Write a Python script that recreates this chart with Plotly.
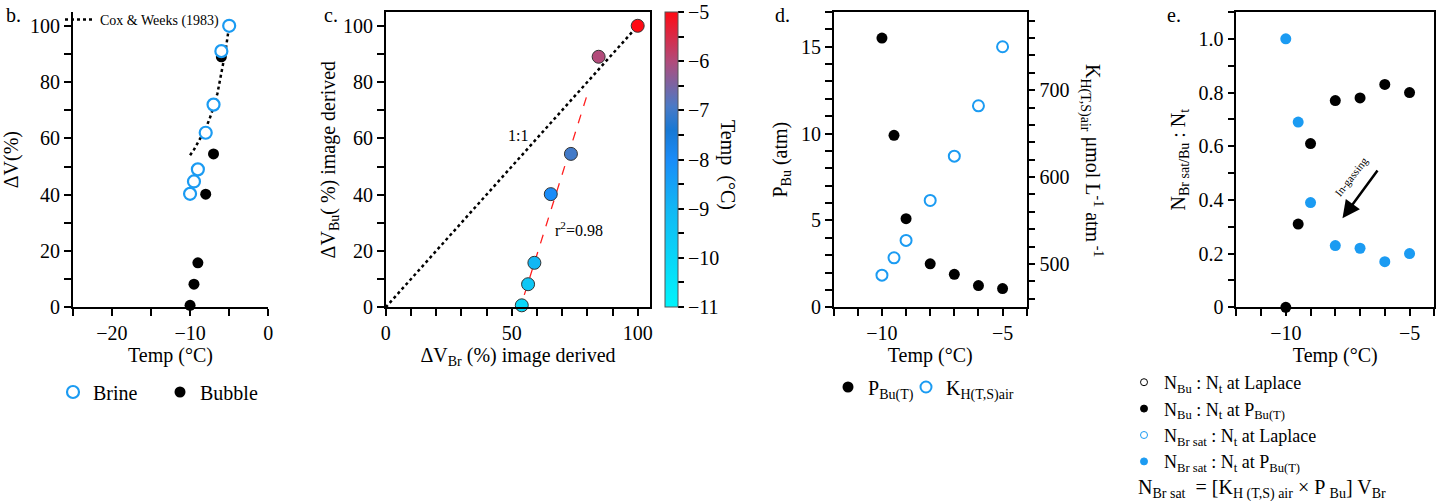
import plotly.graph_objects as go

FONT = "Liberation Serif"
BLUE = "#1b9bf2"
W, H = 1440, 501

# ---------------- data ----------------
# panel b
temp_b = [-10, -9.5, -9, -8, -7, -6, -5]
brine_dv = [40.3, 44.7, 49.0, 62.0, 72.0, 91.0, 100.0]
bubble_dv = [0.7, 8.2, 15.8, 40.2, 54.5, 89.0, 100.0]
cox_temp = [-10, -9.5, -9, -8.5, -8, -7.5, -7, -6.5, -6, -5.5, -5]
cox_dv = [54, 56, 58.5, 61, 63.5, 67, 71, 76, 83, 90.5, 100]

# panel c
br_dv_c = [100, 84.5, 73.5, 65.5, 59, 56.5, 54]
bu_dv_c = [100, 89, 54.5, 40.2, 15.8, 8.2, 0.7]
temp_c = [-5, -6, -7, -8, -9, -9.5, -10]
fit_x = [55.0, 80.2]
fit_y = [4.4, 76.2]
one_x = [0, 100]
one_y = [0, 100]

# panel d
temp_d = [-10, -9.5, -9, -8, -7, -6, -5]
p_bu = [15.5, 9.9, 5.1, 2.5, 1.9, 1.25, 1.08]
k_h = [487, 507, 527, 573, 624, 682, 750]

# panel e
temp_e = [-10, -9.5, -9, -8, -7, -6, -5]
n_bu = [0, 0.31, 0.61, 0.77, 0.78, 0.83, 0.80]
n_br = [1.0, 0.69, 0.39, 0.23, 0.22, 0.17, 0.20]

# colour scale for temperature (-11 .. -5)
cscale = [[0.0, "#00f4fb"], [0.33, "#12b8f4"], [0.5, "#1a8cf8"], [0.6, "#1778d4"],
          [0.68, "#4a7ac6"], [0.83, "#b04c7c"], [1.0, "#ff0a14"]]


def px_x(p):
    return p / W


def px_y(p):
    return 1 - p / H


Y_DOM = [px_y(307.3), px_y(12)]
TF = dict(family=FONT, size=20, color="black")

fig = go.Figure()

# ---- panel b ----
fig.add_trace(go.Scatter(x=cox_temp, y=cox_dv, mode="lines", name="Cox &amp; Weeks (1983)",
                         line=dict(color="black", dash="dot", width=2.5),
                         xaxis="x", yaxis="y", legend="legend2"))
fig.add_trace(go.Scatter(x=temp_b, y=bubble_dv, mode="markers", name="Bubble",
                         marker=dict(color="black", size=11), cliponaxis=False,
                         xaxis="x", yaxis="y", legend="legend", legendrank=2))
fig.add_trace(go.Scatter(x=temp_b, y=brine_dv, mode="markers", name="Brine",
                         marker=dict(color="white", size=12, line=dict(color=BLUE, width=2.2)),
                         cliponaxis=False, xaxis="x", yaxis="y", legend="legend", legendrank=1))

# ---- panel c ----
fig.add_trace(go.Scatter(x=one_x, y=one_y, mode="lines", line=dict(color="black", dash="dot", width=2.5),
                         showlegend=False, xaxis="x2", yaxis="y2"))
fig.add_trace(go.Scatter(x=fit_x, y=fit_y, mode="lines", line=dict(color="#ff2020", dash="dash", width=1.3),
                         showlegend=False, xaxis="x2", yaxis="y2"))
fig.add_trace(go.Scatter(
    x=br_dv_c, y=bu_dv_c, mode="markers", showlegend=False, cliponaxis=False,
    marker=dict(size=13, color=temp_c, colorscale=cscale, cmin=-11, cmax=-5,
                line=dict(color="#333333", width=1),
                colorbar=dict(x=px_x(665), xanchor="left", y=px_y(12), yanchor="top",
                              xpad=0, ypad=0,
                              len=(307.3 - 12) / H, lenmode="fraction", thickness=13,
                              outlinewidth=1, outlinecolor="#555555",
                              tickmode="array",
                              tickvals=[-11, -10.5, -10, -9.5, -9, -8.5, -8, -7.5, -7, -6.5, -6, -5.5, -5],
                              ticktext=["\u221211", "", "\u221210", "", "\u22129", "", "\u22128", "",
                                        "\u22127", "", "\u22126", "", "\u22125"],
                              ticks="outside", ticklen=6, tickwidth=1.5, tickcolor="black",
                              tickfont=TF)),
    xaxis="x2", yaxis="y2"))

# ---- panel d ----
fig.add_trace(go.Scatter(x=temp_d, y=p_bu, mode="markers", name="P<sub>Bu(T)</sub>",
                         marker=dict(color="black", size=11), cliponaxis=False,
                         xaxis="x3", yaxis="y3", legend="legend3"))
fig.add_trace(go.Scatter(x=temp_d, y=k_h, mode="markers", name="K<sub>H(T,S)air</sub>",
                         marker=dict(color="white", size=11, line=dict(color=BLUE, width=2)),
                         cliponaxis=False, xaxis="x3", yaxis="y4", legend="legend5"))

# ---- panel e ----
fig.add_trace(go.Scatter(x=temp_e, y=n_bu, mode="markers", showlegend=False,
                         marker=dict(color="black", size=11), cliponaxis=False,
                         xaxis="x4", yaxis="y5"))
fig.add_trace(go.Scatter(x=temp_e, y=n_br, mode="markers", showlegend=False,
                         marker=dict(color=BLUE, size=11), cliponaxis=False,
                         xaxis="x4", yaxis="y5"))
legend_e = [
    ("N<sub>Bu</sub> : N<sub>t</sub> at Laplace", "white", "black"),
    ("N<sub>Bu</sub> : N<sub>t</sub> at P<sub>Bu(T)</sub>", "black", "black"),
    ("N<sub>Br sat</sub> : N<sub>t</sub> at Laplace", "white", BLUE),
    ("N<sub>Br sat</sub> : N<sub>t</sub> at P<sub>Bu(T)</sub>", BLUE, BLUE),
]
for name, fc, lc in legend_e:
    fig.add_trace(go.Scatter(x=[None], y=[None], mode="markers", name=name,
                             marker=dict(color=fc, size=7, line=dict(color=lc, width=1)),
                             xaxis="x4", yaxis="y5", legend="legend4"))


def ticks(vals, labeled):
    txt = [labeled.get(v, "") for v in vals]
    return dict(tickmode="array", tickvals=vals, ticktext=txt)


axis_common = dict(showline=True, linecolor="black", linewidth=1.5, ticks="outside",
                   ticklen=7, tickwidth=1.5, tickcolor="black", showgrid=False, zeroline=False,
                   tickfont=TF, automargin=False)


def ttl(text, standoff):
    return dict(text=text, standoff=standoff, font=TF)


m = "\u2212"
# panel b axes
xb = dict(axis_common, domain=[px_x(72.7), px_x(268.3)], range=[-25, 0], anchor="y",
          title=ttl("Temp (°C)", 4),
          **ticks([-25, -20, -15, -10, -5, 0], {-20: m + "20", -10: m + "10", 0: "0"}))
yb = dict(axis_common, domain=Y_DOM, range=[0, 104.9], anchor="x",
          title=ttl("ΔV(%)", 6),
          **ticks(list(range(0, 101, 10)), {v: str(v) for v in range(0, 101, 20)}))
# panel c axes
xc = dict(axis_common, domain=[px_x(385.7), px_x(650.3)], range=[0, 105], anchor="y2", mirror=True,
          title=ttl("ΔV<sub>Br</sub> (%) image derived", 4),
          **ticks(list(range(0, 101, 10)), {0: "0", 50: "50", 100: "100"}))
yc = dict(axis_common, domain=Y_DOM, range=[0, 104.9], anchor="x2", mirror=True,
          title=ttl("ΔV<sub>Bu</sub>( %) image derived", 2),
          **ticks(list(range(0, 101, 10)), {v: str(v) for v in range(0, 101, 20)}))
# panel d axes
xd = dict(axis_common, domain=[px_x(833.7), px_x(1026.7)], range=[-12, -4], anchor="y3", mirror=True,
          title=ttl("Temp (°C)", 4),
          **ticks(list(range(-12, -3)), {-10: m + "10", -5: m + "5"}))
yd = dict(axis_common, domain=Y_DOM, range=[0, 17], anchor="x3",
          title=ttl("P<sub>Bu</sub> (atm)", 8),
          **ticks(list(range(0, 18)), {0: "0", 5: "5", 10: "10", 15: "15"}))
yd2 = dict(axis_common, range=[450, 790], anchor="x3", overlaying="y3", side="right",
           **ticks(list(range(460, 790, 20)), {500: "500", 600: "600", 700: "700"}))
# panel e axes
xe = dict(axis_common, domain=[px_x(1236.3), px_x(1434.3)], range=[-12, -4], anchor="y5", mirror=True,
          title=ttl("Temp (°C)", 4),
          **ticks(list(range(-12, -3)), {-10: m + "10", -5: m + "5"}))
ye_vals = [round(v * 0.1, 1) for v in range(0, 12)]
ye = dict(axis_common, domain=Y_DOM, range=[0, 1.1], anchor="x4", mirror=True,
          title=ttl("N<sub>Br sat/Bu</sub> : N<sub>t</sub>", 8),
          **ticks(ye_vals, {0.0: "0", 0.2: "0.2", 0.4: "0.4", 0.6: "0.6", 0.8: "0.8", 1.0: "1.0"}))


def pa(text, xp, yp, size=20, angle=0, xa="left", ya="middle"):
    return dict(text=text, x=px_x(xp), y=px_y(yp), xref="paper", yref="paper",
                xanchor=xa, yanchor=ya, textangle=angle, showarrow=False,
                font=dict(family=FONT, size=size, color="black"))


annotations = [
    pa("b.", 4, 15),
    pa("c.", 322, 15),
    pa("d.", 773, 15),
    pa("e.", 1165, 15),
    dict(text="1:1", x=52.4, y=61.2, xref="x2", yref="y2", showarrow=False,
         font=dict(family=FONT, size=16, color="black")),
    dict(text="r<sup>2</sup>=0.98", x=76.8, y=27.7, xref="x2", yref="y2", showarrow=False,
         font=dict(family=FONT, size=16, color="black")),
    pa("Temp  (°C)", 728, 165, angle=90, xa="center"),
    pa("K<sub>H(T,S)air</sub> μmol L<sup>-1</sup> atm<sup> -1</sup>", 1092, 160, angle=90, xa="center"),
    dict(text="", x=-7.71, y=0.332, ax=-6.25, ay=0.515, xref="x4", yref="y5", axref="x4", ayref="y5",
         showarrow=True, arrowhead=2, arrowsize=1.4, arrowwidth=2.5, arrowcolor="black"),
    dict(text="In-gassing", x=-7.38, y=0.487, xref="x4", yref="y5", textangle=-52, showarrow=False,
         font=dict(family=FONT, size=11, color="black")),
    pa("N<sub>Br sat</sub>  = [K<sub>H (T,S) air</sub> × P <sub>Bu</sub>] V<sub>Br</sub>", 1136, 489),
]

leg_font = dict(family=FONT, size=20, color="black")
fig.update_layout(
    width=W, height=H, autosize=False,
    margin=dict(l=0, r=0, t=0, b=0, autoexpand=False),
    paper_bgcolor="white", plot_bgcolor="white",
    font=dict(family=FONT, size=20, color="black"),
    xaxis=xb, yaxis=yb, xaxis2=xc, yaxis2=yc, xaxis3=xd, yaxis3=yd, yaxis4=yd2,
    xaxis4=xe, yaxis5=ye,
    legend=dict(orientation="h", x=px_x(53), y=px_y(392), xanchor="left", yanchor="middle",
                font=leg_font, bgcolor="rgba(0,0,0,0)", entrywidth=62, itemwidth=30),
    legend2=dict(x=px_x(60), y=px_y(20), xanchor="left", yanchor="middle",
                 font=dict(family=FONT, size=14, color="black"), bgcolor="rgba(0,0,0,0)", itemwidth=30),
    legend3=dict(orientation="h", x=px_x(828), y=px_y(387), xanchor="left", yanchor="middle",
                 font=leg_font, bgcolor="rgba(0,0,0,0)"),
    legend5=dict(orientation="h", x=px_x(906), y=px_y(387), xanchor="left", yanchor="middle",
                 font=leg_font, bgcolor="rgba(0,0,0,0)"),
    legend4=dict(x=px_x(1124), y=px_y(364), xanchor="left", yanchor="top",
                 font=dict(family=FONT, size=18, color="black"), bgcolor="rgba(0,0,0,0)",
                 tracegroupgap=0),
    annotations=annotations,
    showlegend=True,
)

fig.write_html("out.html", config={"displayModeBar": False},
               post_script="document.body.style.margin='0';document.body.style.overflow='hidden';")
